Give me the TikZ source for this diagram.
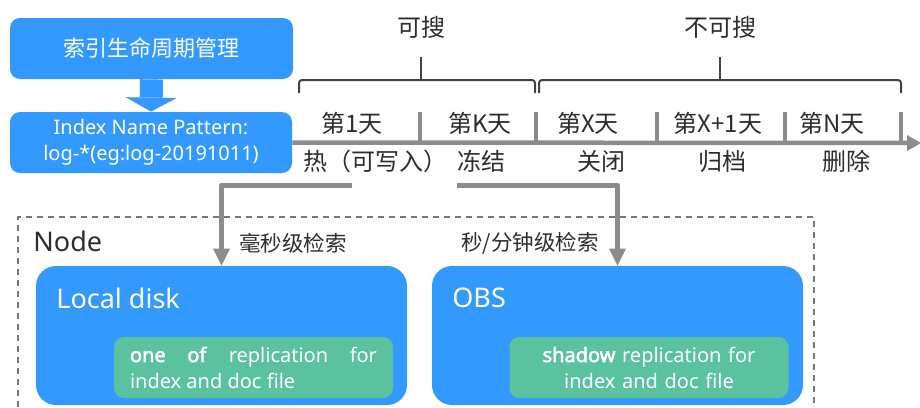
\documentclass[tikz,border=0pt]{standalone}
\usepackage{fontspec}
\setmainfont{Noto Sans}[BoldFont={Noto Sans},BoldFeatures={FakeBold=2.5}]
\newfontfamily\cjk{Noto Sans CJK SC}
\usetikzlibrary{arrows.meta}
\definecolor{ilmblue}{RGB}{51,153,255}
\definecolor{ilmgreen}{RGB}{91,194,160}
\definecolor{ilmgray}{RGB}{140,140,140}
\definecolor{ilmtext}{RGB}{45,45,45}
\newcommand{\fsz}[2]{\fontsize{#1}{#2}\selectfont}

\begin{document}
\begin{tikzpicture}[x=0.5pt,y=-0.5pt,line join=round,
  bluebox/.style={fill=ilmblue,rounded corners=5pt,text=white,inner sep=0pt},
  bigbox/.style={fill=ilmblue,rounded corners=10pt,minimum width=185.5pt,minimum height=69.5pt},
  boxtitle/.style={anchor=west,inner sep=0pt,text=white,font=\fsz{13.5pt}{16pt}},
  replbox/.style={fill=ilmgreen,rounded corners=5pt,text=white,minimum height=30.5pt,
    inner xsep=8pt,text width=123.5pt,font=\fsz{10pt}{13pt}},
  cjklabel/.style={inner sep=0pt,text=ilmtext,font=\cjk\fsz{12pt}{14pt}},
  searchlabel/.style={inner sep=0pt,text=ilmtext,font=\cjk\fsz{10.75pt}{13pt}},
  timeline/.style={ilmgray,line width=2.25pt,-{Triangle[width=8pt,length=7pt,line width=0pt]}},
  tick/.style={ilmgray,line width=2pt},
  conn/.style={ilmgray,line width=2.5pt,-{Triangle[width=8.5pt,length=8.5pt,line width=0pt]}},
  brace/.style={draw=ilmtext!90,line width=1pt,rounded corners=1.5pt},
  nodebox/.style={draw=ilmgray!85!black,line width=0.75pt,dash pattern=on 3pt off 2.5pt}]
\useasboundingbox (0,0) rectangle (920,407);

% policy and index pattern
\node[bluebox,minimum width=141.5pt,minimum height=30.5pt,font=\cjk\fsz{11pt}{13pt}] (lcm) at (151.5,48.5) {索引生命周期管理};
\node[bluebox,minimum width=141pt,minimum height=30.5pt,align=center,font=\fsz{10pt}{13pt}] (pattern) at (151,142.5) {Index Name Pattern:\\log-*(eg:log-20191011)};
\draw[ilmblue,line width=11.5pt,-{Triangle[width=25.5pt,length=7pt,line width=0pt]}] (lcm.south) -- (pattern.north);

% time axis
\coordinate (tlend) at (921,143);
\draw[timeline] (pattern.east) -- (tlend);
\foreach \x in {420,536,657,785,901}
  \draw[tick] (\x,112) -- (\x,143.5);
\foreach \x/\t/\n in {352/第1天/day1,480/第K天/dayk,588/第X天/dayx,718/第X+1天/dayxx,832/第N天/dayn}
  \node[cjklabel] (\n) at (\x,123) {\t};
\foreach \x/\t/\n in {375/热（可写入）/hot,481/冻结/frozen,601/关闭/closed,722/归档/archived,846/删除/deleted}
  \node[cjklabel] (\n) at (\x,161) {\t};

% braces
\draw[brace] (299,93) |- (535,80) -- (535,93);
\draw[brace] (421,80) -- (421,57);
\draw[brace] (539,93) |- (901,80) -- (901,93);
\draw[brace] (720,80) -- (720,57);
\node[cjklabel] (search) at (421,27) {可搜};
\node[cjklabel] (nosearch) at (720,27) {不可搜};

% node with its storage
\draw[nodebox] (18,407) |- (814,217) -- (814,407);
\node[anchor=west,inner sep=0pt,text=ilmtext,font=\fsz{13.5pt}{16pt}] (nodelabel) at (33,241) {Node};
\node[bigbox] (local) at (221.5,335.5) {};
\node[bigbox] (obs) at (617.5,335.5) {};
\node[boxtitle] (localtitle) at (56,298) {Local disk};
\node[boxtitle] (obstitle) at (452,298) {OBS};
\node[replbox,align=justify] (localrepl) at (253.5,367.5) {\textbf{one of} replication for \mbox{index} and doc file};
\node[replbox,align=center] (obsrepl) at (649,367.5) {\textbf{shadow} replication for\\index and doc file};

% search paths
\coordinate (hotend) at (352,185);
\coordinate (frozenend) at (457,185);
\draw[conn] (hotend) -| (local.north);
\draw[conn] (frozenend) -| (obs.north);
\node[searchlabel] (msearch) at (293,243) {毫秒级检索};
\node[searchlabel] (ssearch) at (530,243) {秒/分钟级检索};
\end{tikzpicture}
\end{document}
